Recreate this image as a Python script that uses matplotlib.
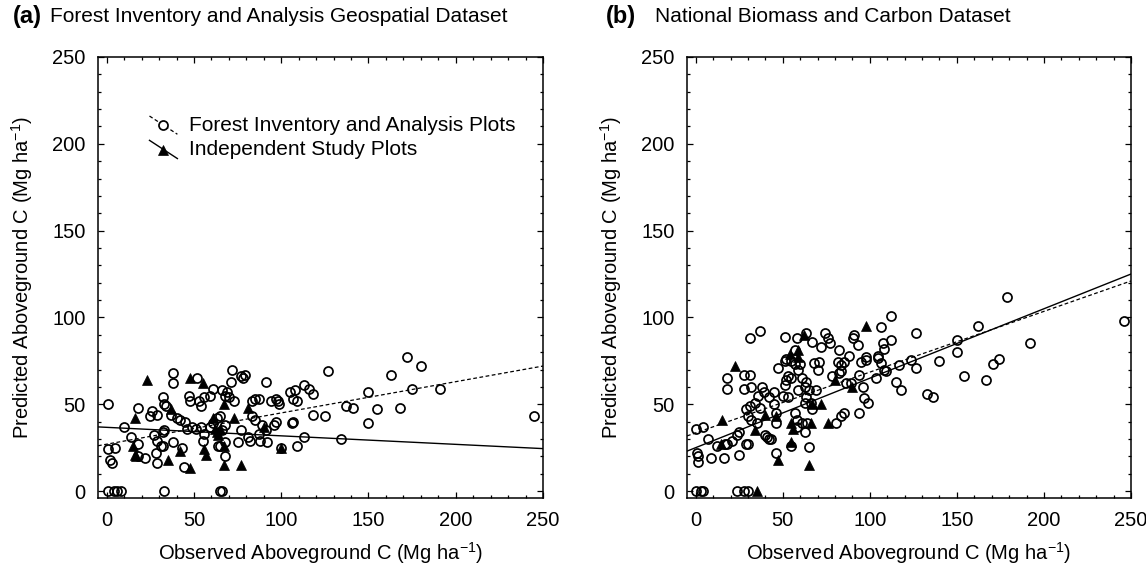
import numpy as np
import matplotlib
matplotlib.use("Agg")
import matplotlib.pyplot as plt
from matplotlib.ticker import MultipleLocator

plt.rcParams["font.family"] = ["Liberation Sans", "DejaVu Sans"]
plt.rcParams["mathtext.default"] = "regular"

# (a) FIA geospatial dataset -- FIA plots (open circles)
fia_a_x = [1, 1, 2, 3, 5, 1, 4, 6, 8, 10, 14, 18, 18, 18, 22, 25, 26, 29, 32, 33, 34, 32, 33,
           27, 29, 31, 32, 29, 28, 38, 38, 37, 40, 42, 38, 43, 44, 33, 45, 46, 49, 47, 48, 52,
           54, 56, 59, 61, 53, 55, 51, 54, 56, 59, 61, 63, 65, 66, 68, 69, 70, 64, 65, 68, 68,
           65, 66, 66, 68, 72, 71, 73, 77, 79, 78, 77, 75, 83, 85, 87, 83, 85, 87, 81, 82, 88,
           89, 92, 91, 91, 94, 97, 98, 99, 96, 97, 100, 105, 108, 107, 109, 106, 107, 109, 113,
           113, 116, 118, 118, 127, 125, 137, 141, 134, 150, 150, 155, 163, 168, 172, 175, 180,
           191, 245]
fia_a_y = [50, 24, 18, 16, 25, 0, 0, 0, 0, 37, 31, 48, 27, 20, 19, 43, 46, 44, 54, 50, 49, 34, 35,
           32, 29, 26, 26, 16, 22, 68, 62, 44, 42, 41, 28, 25, 14, 0, 40, 36, 37, 55, 52, 65,
           49, 54, 55, 59, 52, 29, 36, 37, 33, 37, 39, 42, 43, 58, 55, 57, 54, 26, 26, 28, 20,
           0, 0, 35, 38, 70, 63, 52, 66, 67, 65, 35, 28, 52, 53, 53, 43, 41, 33, 31, 29, 29,
           38, 28, 35, 63, 52, 53, 52, 50, 38, 40, 25, 57, 58, 53, 52, 39, 40, 26, 31,
           61, 59, 56, 44, 69, 43, 49, 48, 30, 57, 39, 47, 67, 48, 77, 59, 72,
           59, 43]

# (a) independent study plots (filled triangles)
ind_a_x = [23, 16, 15, 16, 17, 37, 35, 42, 48, 48, 55, 56, 57, 61, 62, 63, 65, 64, 67, 67, 67,
           73, 77, 81, 90, 100]
ind_a_y = [64, 42, 26, 21, 20, 47, 18, 23, 13, 65, 62, 24, 21, 42, 36, 34, 36, 32, 50, 26, 15,
           42, 15, 48, 37, 25]

# (b) national biomass and carbon dataset -- FIA plots
fia_b_x = [0, 1, 1.5, 1.5, 4, 7, 9, 16, 12, 17, 18, 21, 18, 18, 24, 25, 25, 28, 31, 28, 32, 31,
           37, 29, 31, 34, 30, 32, 35, 29, 30, 38, 39, 36, 37, 40, 42, 43, 41, 42, 45, 45, 46,
           46, 46, 47, 51, 52, 51, 58, 51, 52, 53, 50, 53, 55, 57, 58, 58, 57, 59, 59,
           0, 3, 4, 24, 28, 30,
           63.5, 55, 60, 57, 55, 61, 63.5, 62.5, 65, 63.5, 62.5, 61, 62.5, 64, 65,
           67, 72, 74, 76, 77, 68, 71, 70, 69, 66, 67, 78, 82.5, 81.6, 83.5, 85.4, 82.5, 83.5,
           80.6, 83.5, 85.4, 86.4, 88.3, 89.2, 90.2, 91, 93, 94, 95, 97.8, 97.8, 95.9, 96.9,
           98.8, 94, 103.5, 104.5, 104.5, 106.4, 107.3, 108.3, 112, 112, 106.4, 108.3, 109.2,
           115, 117.8, 117, 123.5, 126.4, 126.4, 133, 136, 140, 150, 150, 154, 162, 167, 171,
           174, 179, 192, 246]
fia_b_y = [36, 22, 17, 20, 37, 30, 19, 19, 26, 27, 27, 29, 65, 59, 32, 34, 21, 67, 67, 59, 60, 88,
           92, 47, 49, 51, 43, 41, 39, 27, 27, 60, 57, 55, 48, 32, 30, 30, 31, 54, 50, 57, 45,
           39, 22, 71, 75, 76, 89, 88, 61, 64, 66, 55, 54, 26, 45, 41, 37, 81, 70, 58,
           0, 0, 0, 0, 0, 0,
           91, 75, 73, 73, 65, 65, 63, 60, 58, 54, 51, 39, 34, 39, 25.5,
           86, 83, 91, 88, 85, 73.5, 74.5, 70, 58, 50.5, 47, 66, 81, 74.5, 72.6, 74.5, 68, 69,
           39, 43, 45, 62, 78, 62, 88, 90, 84, 67, 74.5, 77.4, 75.4, 60, 53.4,
           50.5, 44.7, 65, 78, 76.4, 94.6, 85, 82, 87, 101, 73.5, 70, 69,
           63, 58, 72.6, 75.4, 70.6, 91, 56, 54, 75, 87, 80, 66, 95, 64, 73,
           76, 112, 85, 98]

# (b) independent study plots
ind_b_x = [22.5, 15, 14.5, 34, 40, 46, 47, 35, 54, 59, 59, 62, 55, 56, 55, 67, 72, 66, 76, 80,
           90, 98, 65]
ind_b_y = [72, 41, 27, 35, 44, 43, 18, 0, 79, 81, 77, 90, 39, 36, 28, 50, 50, 39, 39, 64,
           60, 95, 15]

# regression lines (intercept, slope)
fit_a = {"fia": (27.0, 0.18), "ind": (36.7, -0.049)}
fit_b = {"fia": (33.5, 0.35), "ind": (25.0, 0.40)}

W, H = 1146, 575
FS = 14.5
CIRC = dict(ms=6.5, mfc="none", mec="black", mew=1.25)
TRI = dict(ms=7.2, mfc="black", mec="black", mew=0.5)


def style_axes(ax):
    ax.set_xlim(-5, 250)
    ax.set_ylim(-4, 250)
    ax.xaxis.set_major_locator(MultipleLocator(50))
    ax.yaxis.set_major_locator(MultipleLocator(50))
    ax.xaxis.set_minor_locator(MultipleLocator(10))
    ax.yaxis.set_minor_locator(MultipleLocator(10))
    ax.tick_params(which="both", direction="in", top=True, right=True, width=0.9,
                   labelsize=FS)
    ax.tick_params(which="major", length=4.5)
    ax.tick_params(which="minor", length=2.5)
    ax.tick_params(axis="x", pad=9)
    ax.tick_params(axis="y", pad=9)
    for sp in ax.spines.values():
        sp.set_linewidth(1.1)
    ax.set_xlabel("Observed Aboveground C (Mg ha$^{-1}$)", fontsize=FS)
    ax.set_ylabel("Predicted Aboveground C (Mg ha$^{-1}$)", fontsize=FS)
    ax.xaxis.set_label_coords(0.5, -0.095)
    ax.yaxis.set_label_coords(-0.142, 0.5)


def draw_panel(ax, fx, fy, ix, iy, fit):
    ax.plot(fx, fy, "o", zorder=3, **CIRC)
    ax.plot(ix, iy, "^", zorder=4, **TRI)
    xs = np.array([-5, 250])
    b0, b1 = fit["fia"]
    ax.plot(xs, b0 + b1 * xs, color="black", lw=0.9, ls=(0, (3, 2)), zorder=2)
    b0, b1 = fit["ind"]
    ax.plot(xs, b0 + b1 * xs, color="black", lw=1.0, zorder=2)
    style_axes(ax)


fig = plt.figure(figsize=(W / 100, H / 100), dpi=100)
ax_a = fig.add_axes([98 / W, 1 - 498 / H, 445 / W, 441 / H])
ax_b = fig.add_axes([687 / W, 1 - 498 / H, 444 / W, 441 / H])

draw_panel(ax_a, fia_a_x, fia_a_y, ind_a_x, ind_a_y, fit_a)
draw_panel(ax_b, fia_b_x, fia_b_y, ind_b_x, ind_b_y, fit_b)

# hand-made legend with slanted line samples, like the original
ax_a.plot([24.5, 40.5], [216, 205.5], color="black", lw=0.9, ls=(0, (3, 2)))
ax_a.plot([32.5], [210.7], "o", **dict(CIRC, mfc="white"))
ax_a.plot([24.5, 40.5], [202, 191.5], color="black", lw=1.0)
ax_a.plot([32.5], [196.7], "^", **TRI)
ax_a.text(47, 210.7, "Forest Inventory and Analysis Plots", fontsize=15, va="center")
ax_a.text(47, 196.5, "Independent Study Plots", fontsize=15, va="center")

# panel titles
fig.text(13 / W, 1 - 17 / H, "(a)", fontsize=17, fontweight="bold", va="center")
fig.text(50 / W, 1 - 17 / H, "Forest Inventory and Analysis Geospatial Dataset",
         fontsize=15, va="center")
fig.text(606 / W, 1 - 17 / H, "(b)", fontsize=17, fontweight="bold", va="center")
fig.text(655 / W, 1 - 17 / H, "National Biomass and Carbon Dataset",
         fontsize=15, va="center")

fig.savefig("out.png", dpi=100)
